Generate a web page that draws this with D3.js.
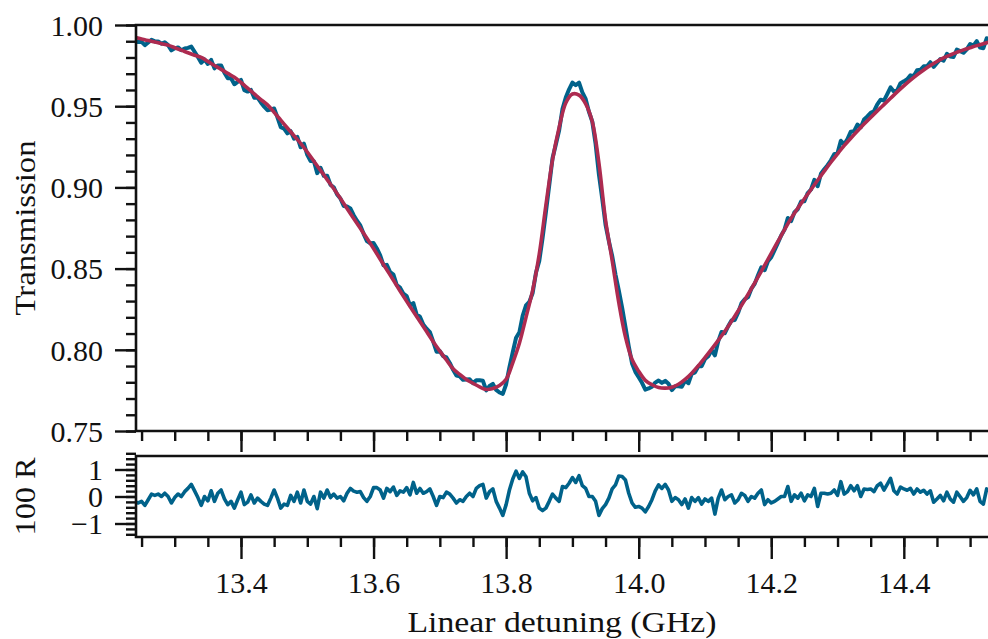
<!DOCTYPE html>
<html>
<head>
<meta charset="utf-8">
<script src="https://cdn.jsdelivr.net/npm/d3@7"></script>
<style>
  body { margin: 0; background: #fff; }
</style>
</head>
<body>
<div id="container"></div>
<script>
// measured scan: detuning grid (GHz), step 0.005 from 13.24
var detuning = d3.range(259).map(function (i) { return +(13.24 + 0.005 * i).toFixed(3); });

var transmission = [
  0.9904,0.9895,0.9896,0.9876,0.9892,0.9909,0.9899,0.9899,0.9885,0.9893,
  0.9876,0.9844,0.9856,0.9862,0.9845,0.9855,0.9859,0.9867,0.9835,0.9803,
  0.9767,0.9788,0.9760,0.9785,0.9733,0.9751,0.9751,0.9706,0.9672,0.9672,
  0.9635,0.9650,0.9662,0.9599,0.9590,0.9600,0.9552,0.9553,0.9523,0.9497,
  0.9475,0.9479,0.9486,0.9432,0.9371,0.9362,0.9333,0.9346,0.9300,0.9311,
  0.9247,0.9269,0.9200,0.9162,0.9161,0.9088,0.9121,0.9071,0.9072,0.9016,
  0.9001,0.8956,0.8932,0.8885,0.8882,0.8870,0.8829,0.8795,0.8766,0.8714,
  0.8669,0.8656,0.8657,0.8624,0.8582,0.8520,0.8523,0.8479,0.8463,0.8399,
  0.8383,0.8346,0.8331,0.8273,0.8288,0.8217,0.8204,0.8155,0.8130,0.8109,
  0.8050,0.7988,0.7992,0.7961,0.7953,0.7919,0.7877,0.7842,0.7837,0.7815,
  0.7817,0.7818,0.7794,0.7813,0.7812,0.7809,0.7750,0.7777,0.7790,0.7753,
  0.7737,0.7729,0.7788,0.7893,0.7985,0.8074,0.8107,0.8211,0.8273,0.8295,
  0.8350,0.8474,0.8547,0.8688,0.8847,0.9012,0.9179,0.9264,0.9352,0.9482,
  0.9553,0.9604,0.9645,0.9630,0.9645,0.9585,0.9545,0.9465,0.9405,0.9267,
  0.9080,0.8930,0.8770,0.8669,0.8578,0.8463,0.8366,0.8259,0.8141,0.8022,
  0.7916,0.7864,0.7831,0.7797,0.7755,0.7762,0.7773,0.7798,0.7811,0.7796,
  0.7809,0.7791,0.7752,0.7775,0.7776,0.7773,0.7809,0.7794,0.7852,0.7861,
  0.7898,0.7899,0.7943,0.7960,0.7998,0.7966,0.8052,0.8110,0.8102,0.8145,
  0.8181,0.8184,0.8228,0.8286,0.8311,0.8324,0.8376,0.8406,0.8459,0.8508,
  0.8490,0.8545,0.8570,0.8613,0.8658,0.8704,0.8740,0.8812,0.8792,0.8847,
  0.8866,0.8913,0.8914,0.8965,0.8987,0.9046,0.9007,0.9084,0.9112,0.9137,
  0.9167,0.9205,0.9211,0.9287,0.9266,0.9298,0.9343,0.9346,0.9387,0.9369,
  0.9418,0.9437,0.9459,0.9469,0.9511,0.9540,0.9534,0.9575,0.9616,0.9590,
  0.9597,0.9642,0.9653,0.9666,0.9690,0.9686,0.9721,0.9724,0.9746,0.9746,
  0.9771,0.9742,0.9766,0.9790,0.9781,0.9822,0.9806,0.9803,0.9848,0.9839,
  0.9829,0.9850,0.9883,0.9873,0.9901,0.9861,0.9857,0.9918,0.9916
];

// 100 x residual, same grid
var residual = [
  -0.20,-0.24,-0.18,-0.33,-0.12,0.09,0.04,0.09,0.00,0.12,
  0.00,-0.24,-0.04,0.09,0.00,0.18,0.30,0.45,0.21,-0.04,
  -0.33,0.00,-0.16,0.21,-0.18,0.12,0.24,-0.09,-0.30,-0.18,
  -0.43,-0.12,0.16,-0.30,-0.21,0.06,-0.24,-0.06,-0.18,-0.28,
  -0.33,-0.06,0.24,-0.06,-0.43,-0.28,-0.33,0.04,-0.18,0.16,
  -0.24,0.24,-0.18,-0.28,0.00,-0.45,0.16,-0.06,0.24,-0.04,
  0.09,-0.06,0.00,-0.16,0.12,0.30,0.20,0.16,0.18,-0.04,
  -0.18,0.00,0.33,0.33,0.24,-0.06,0.30,0.18,0.35,0.04,
  0.21,0.16,0.33,0.06,0.52,0.12,0.30,0.12,0.18,0.28,
  0.00,-0.33,0.00,-0.04,0.16,0.09,-0.06,-0.24,-0.12,-0.18,
  0.00,0.12,0.00,0.30,0.40,0.45,-0.06,0.18,0.28,-0.18,
  -0.43,-0.70,-0.30,0.24,0.65,0.94,0.67,0.91,0.73,0.12,
  -0.16,-0.04,-0.43,-0.52,-0.43,-0.18,0.09,-0.06,-0.18,0.37,
  0.33,0.49,0.70,0.52,0.77,0.40,0.30,0.00,0.00,-0.18,
  -0.70,-0.45,-0.30,-0.06,0.28,0.43,0.76,0.74,0.61,0.12,
  -0.24,-0.40,-0.37,-0.43,-0.57,-0.37,-0.12,0.21,0.43,0.30,
  0.45,0.24,-0.18,-0.04,-0.12,-0.30,-0.09,-0.43,-0.04,-0.18,
  -0.04,-0.28,-0.09,-0.18,-0.06,-0.65,-0.06,0.24,-0.12,0.00,
  0.06,-0.24,-0.12,0.12,0.04,-0.18,0.00,-0.06,0.12,0.24,
  -0.30,-0.12,-0.24,-0.18,-0.09,0.00,0.00,0.37,-0.18,0.06,
  -0.06,0.12,-0.16,0.06,0.00,0.30,-0.37,0.12,0.12,0.09,
  0.12,0.24,0.04,0.55,0.09,0.18,0.40,0.21,0.40,0.00,
  0.28,0.26,0.28,0.18,0.40,0.49,0.24,0.45,0.67,0.21,
  0.09,0.35,0.28,0.23,0.30,0.09,0.28,0.16,0.23,0.09,
  0.21,-0.21,-0.09,0.04,-0.16,0.16,-0.09,-0.21,0.16,-0.01,
  -0.18,-0.04,0.23,0.06,0.28,-0.18,-0.28,0.28,0.20
];

// fitted model, step 0.01 from 13.24
var fitDetuning = d3.range(130).map(function (i) { return +(13.24 + 0.01 * i).toFixed(2); });
var fitValues = [
  0.9924,0.9914,0.9904,0.9895,0.9885,0.9876,0.9860,0.9845,0.9829,0.9814,
  0.9800,0.9776,0.9751,0.9727,0.9702,0.9678,0.9646,0.9611,0.9576,0.9541,
  0.9508,0.9462,0.9414,0.9366,0.9318,0.9271,0.9218,0.9161,0.9105,0.9048,
  0.8992,0.8932,0.8870,0.8809,0.8748,0.8687,0.8624,0.8558,0.8493,0.8428,
  0.8362,0.8298,0.8236,0.8174,0.8112,0.8050,0.7992,0.7937,0.7883,0.7849,
  0.7817,0.7794,0.7772,0.7756,0.7762,0.7780,0.7818,0.7920,0.8040,0.8200,
  0.8366,0.8590,0.8890,0.9170,0.9370,0.9520,0.9575,0.9568,0.9515,0.9405,
  0.9150,0.8800,0.8550,0.8290,0.8080,0.7940,0.7868,0.7812,0.7785,0.7768,
  0.7764,0.7770,0.7788,0.7818,0.7856,0.7902,0.7952,0.8004,0.8058,0.8114,
  0.8175,0.8240,0.8307,0.8376,0.8447,0.8520,0.8594,0.8667,0.8740,0.8810,
  0.8872,0.8930,0.8987,0.9044,0.9100,0.9155,0.9207,0.9257,0.9303,0.9347,
  0.9390,0.9431,0.9471,0.9510,0.9549,0.9588,0.9625,0.9660,0.9693,0.9723,
  0.9750,0.9775,0.9797,0.9815,0.9832,0.9847,0.9860,0.9873,0.9885,0.9896
];

var xTicks = [13.4, 13.6, 13.8, 14.0, 14.2, 14.4];
var yTicksTop = [0.75, 0.80, 0.85, 0.90, 0.95, 1.00];
var yTicksBottom = [-1, 0, 1];

var W = 988, H = 639;
var left = 136, right = 988;
var top1 = 25, bot1 = 431, top2 = 456, bot2 = 537;
var blue = "#00628a", red = "#ad2b50";
var FONT = "Liberation Serif";

var svg = d3.select("#container").append("svg")
    .attr("width", W).attr("height", H);

var x = d3.scaleLinear().domain([13.2416, 14.527]).range([left, right]);
var y1 = d3.scaleLinear().domain([0.75, 1.0]).range([bot1, top1]);
var y2 = d3.scaleLinear().domain([-1.5, 1.5]).range([bot2, top2]);

var defs = svg.append("defs");
defs.append("clipPath").attr("id", "clip1").append("rect")
    .attr("x", left).attr("y", top1).attr("width", right - left).attr("height", bot1 - top1);
defs.append("clipPath").attr("id", "clip2").append("rect")
    .attr("x", left).attr("y", top2).attr("width", right - left).attr("height", bot2 - top2);

// lines
var dataLine = d3.line()
    .x(function (d) { return x(d[0]); })
    .y(function (d) { return y1(d[1]); });

svg.append("path")
    .datum(d3.zip(detuning, transmission))
    .attr("clip-path", "url(#clip1)")
    .attr("d", dataLine)
    .attr("fill", "none").attr("stroke", blue).attr("stroke-width", 4)
    .attr("stroke-linejoin", "round");

svg.append("path")
    .datum(d3.zip(fitDetuning, fitValues))
    .attr("clip-path", "url(#clip1)")
    .attr("d", dataLine.curve(d3.curveCatmullRom))
    .attr("fill", "none").attr("stroke", red).attr("stroke-width", 3.6);

svg.append("path")
    .datum(d3.zip(detuning, residual))
    .attr("clip-path", "url(#clip2)")
    .attr("d", d3.line()
        .x(function (d) { return x(d[0]); })
        .y(function (d) { return y2(d[1]); }))
    .attr("fill", "none").attr("stroke", blue).attr("stroke-width", 3.6)
    .attr("stroke-linejoin", "round");

// axes
var minorX = d3.range(27).map(function (i) { return 13.25 + 0.05 * i; })
    .filter(function (v) { return v <= 14.527; });
var minorY1 = d3.range(26).map(function (i) { return 0.75 + 0.01 * i; });
var minorY2 = d3.range(16).map(function (i) { return -1.4 + 0.2 * i; });

function styleAxis(g) {
  g.attr("font-family", FONT).attr("font-size", 30);
  g.select(".domain").remove();
  g.selectAll(".tick line").attr("stroke", "#111").attr("stroke-width", 2.4);
  g.selectAll(".tick text").attr("fill", "#111");
}

// top panel x (no labels)
svg.append("g").attr("transform", "translate(0," + bot1 + ")")
  .call(d3.axisBottom(x).tickValues(minorX).tickSize(10).tickFormat(""))
  .call(styleAxis);
svg.append("g").attr("transform", "translate(0," + bot1 + ")")
  .call(d3.axisBottom(x).tickValues(xTicks).tickSize(21).tickFormat(""))
  .call(styleAxis);

// top panel y
svg.append("g").attr("transform", "translate(" + left + ",0)")
  .call(d3.axisLeft(y1).tickValues(minorY1).tickSize(10).tickFormat(""))
  .call(styleAxis);
svg.append("g").attr("transform", "translate(" + left + ",0)")
  .call(d3.axisLeft(y1).tickValues(yTicksTop).tickSize(21).tickPadding(12)
        .tickFormat(d3.format(".2f")))
  .call(styleAxis)
  .selectAll(".tick text").attr("dy", "0.34em");

// bottom panel x
svg.append("g").attr("transform", "translate(0," + bot2 + ")")
  .call(d3.axisBottom(x).tickValues(minorX).tickSize(10).tickFormat(""))
  .call(styleAxis);
svg.append("g").attr("transform", "translate(0," + bot2 + ")")
  .call(d3.axisBottom(x).tickValues(xTicks).tickSize(22).tickPadding(12)
        .tickFormat(d3.format(".1f")))
  .call(styleAxis)
  .selectAll(".tick text").attr("dy", "0.72em");

// bottom panel y
svg.append("g").attr("transform", "translate(" + left + ",0)")
  .call(d3.axisLeft(y2).tickValues(minorY2).tickSize(10).tickFormat(""))
  .call(styleAxis);
svg.append("g").attr("transform", "translate(" + left + ",0)")
  .call(d3.axisLeft(y2).tickValues(yTicksBottom).tickSize(21).tickPadding(12)
        .tickFormat(function (d) { return d < 0 ? "\u2212" + Math.abs(d) : d; }))
  .call(styleAxis)
  .selectAll(".tick text").attr("dy", "0.34em");

// spines
function spine(d) {
  svg.append("path").attr("d", d)
    .attr("stroke", "#111").attr("stroke-width", 2.6).attr("fill", "none");
}
spine("M" + right + "," + top1 + "H" + left + "V" + bot1 + "H" + right);
spine("M" + right + "," + top2 + "H" + left + "V" + bot2 + "H" + right);

// labels
svg.append("text")
    .attr("x", (left + right) / 2).attr("y", 632)
    .attr("text-anchor", "middle")
    .attr("font-family", FONT).attr("font-size", 30).attr("fill", "#111")
    .attr("textLength", 309).attr("lengthAdjust", "spacingAndGlyphs")
    .text("Linear detuning (GHz)");

svg.append("text")
    .attr("transform", "translate(35," + (top1 + bot1) / 2 + ") rotate(-90)")
    .attr("text-anchor", "middle")
    .attr("font-family", FONT).attr("font-size", 30).attr("fill", "#111")
    .attr("textLength", 175).attr("lengthAdjust", "spacingAndGlyphs")
    .text("Transmission");

svg.append("text")
    .attr("transform", "translate(35," + (top2 + bot2) / 2 + ") rotate(-90)")
    .attr("text-anchor", "middle")
    .attr("font-family", FONT).attr("font-size", 30).attr("fill", "#111")
    .attr("textLength", 78).attr("lengthAdjust", "spacingAndGlyphs")
    .text("100 R");
</script>
</body>
</html>
